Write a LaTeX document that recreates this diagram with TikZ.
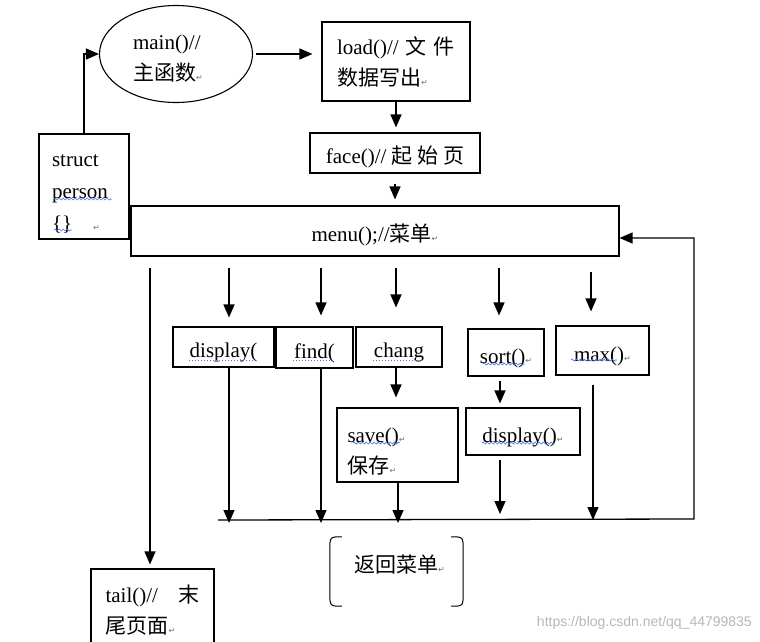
\documentclass[tikz,border=0pt]{standalone}
\usepackage{fontspec}
\setmainfont{Liberation Serif}
\newfontfamily\cjk{Noto Sans CJK SC}
\newfontfamily\dejavu{DejaVu Sans}
\newfontfamily\wmfont{Liberation Sans}
\usetikzlibrary{arrows.meta,shapes.geometric,calc,decorations.pathmorphing}
\newcommand\rt{{\dejavu\fontsize{8}{8}\selectfont\textcolor{black!55}{↵}}}
\definecolor{spell}{RGB}{70,120,220}
\begin{document}
\begin{tikzpicture}[x=1pt,y=-1pt,
  every node/.style={font=\fontsize{21}{31}\selectfont},
  box/.style={draw,line width=1.1pt,rectangle,inner sep=0pt},
  low/.style={text height=21pt,text depth=0pt},
  arr/.style={line width=1.3pt,-{Triangle[length=13pt,width=11pt]}},
  wavy/.style={spell,line width=0.7pt,decorate,decoration={snake,segment length=4pt,amplitude=1pt}},
  dots/.style={spell,line width=0.8pt,dash pattern=on 1pt off 2pt}]
\useasboundingbox[fill=white] (0,0) rectangle (760,642);

\node[draw,ellipse,line width=1.1pt,minimum width=153pt,minimum height=97pt,inner sep=0pt,align=left,text width=86pt] (main) at (176,54) {\rule{0pt}{23pt}main()//\\{\cjk 主函数}\rt};
\node[box,minimum width=148pt,minimum height=79pt,text width=118pt,align=left] (load) at (396,61.5) {load()// {\cjk 文\hfill 件}\\{\cjk 数据写出}\rt};
\node[box,low,minimum width=170pt,minimum height=40pt] (face) at (395,153) {face()// {\cjk 起 始 页}};
\node[box,minimum width=90pt,minimum height=105pt,text width=64pt,align=left,font=\fontsize{21}{32}\selectfont] (struct) at (84,186.5) {\rule{0pt}{26pt}struct\\person\\\{\}\quad\rt};
\node[box,low,minimum width=488pt,minimum height=50pt] (menu) at (375,231) {menu();//{\cjk 菜单}\rt};

\node[box,low,minimum width=101pt,minimum height=40pt] (disp) at (223.5,347) {display(};
\node[box,low,minimum width=77pt,minimum height=41pt] (find) at (314.5,347.5) {find(};
\node[box,low,minimum width=86pt,minimum height=40pt] (chang) at (399,347) {chang};
\node[box,low,minimum width=76pt,minimum height=47pt] (sort) at (506,352.5) {sort()\rt};
\node[box,low,minimum width=93pt,minimum height=49pt] (max) at (602.5,350.5) {max()\rt};
\node[box,minimum width=121pt,minimum height=74pt,text width=100pt,align=left] (save) at (397.5,445) {\rule{0pt}{27pt}save()\rt\\{\cjk 保存}\rt};
\node[box,low,minimum width=114pt,minimum height=47pt] (disp2) at (523,431.5) {display()\rt};
\node[box,minimum width=123pt,minimum height=82pt,text width=94pt,align=left] (tail) at (152.5,610) {tail()//\hfill{\cjk 末}\\{\cjk 尾页面}\rt};

% spelling underlines
\draw[wavy] (54,199) -- (112,199);
\draw[wavy] (54,230) -- (72,230);
\draw[dots] (189,360) -- (255,360);
\draw[dots] (293,360) -- (333,360);
\draw[dots] (373,360) -- (423,360);
\draw[wavy] (483,364) -- (525,364);
\draw[wavy] (571,360) -- (617,360);
\draw[wavy] (353,443) -- (400,443);
\draw[wavy] (482,443) -- (555,443);

\node[minimum width=133pt,minimum height=69pt,inner sep=0pt] (ret) at (396.5,571.5) {};
\node[anchor=west,inner sep=0pt] (rett) at (354,565) {{\cjk 返回菜单}\rt};
\draw[line width=1pt] ([xshift=12pt]ret.north west) .. controls (ret.north west) .. ([yshift=-14pt]ret.north west)
  -- ([yshift=14pt]ret.south west) .. controls (ret.south west) .. ([xshift=12pt]ret.south west);
\draw[line width=1pt] ([xshift=-12pt]ret.north east) .. controls (ret.north east) .. ([yshift=-14pt]ret.north east)
  -- ([yshift=14pt]ret.south east) .. controls (ret.south east) .. ([xshift=-12pt]ret.south east);

\node[anchor=east,inner sep=0pt,font=\wmfont\fontsize{14}{14}\selectfont,text=black!28] (wm) at (752,623) {https://blog.csdn.net/qq\_44799835};

% connectors
\draw[arr] (struct.north) |- (main.west);
\draw[arr,shorten <=3pt,shorten >=9pt] (main.east) -- (main.east -| load.west);
\draw[arr,shorten >=5pt] (load.south) -- (load.south |- face.north);
\draw[arr,shorten <=10pt,shorten >=6pt] (face.south) -- (face.south |- menu.north);

\coordinate (a1) at ([xshift=5.5pt]disp.north);
\coordinate (a2) at ([xshift=6.5pt]find.north);
\coordinate (a3) at ([xshift=-3pt]chang.north);
\coordinate (a4) at ([xshift=-7pt]sort.north);
\coordinate (a5) at ([xshift=-11.5pt]max.north);
\draw[arr,shorten <=11pt,shorten >=9pt] (menu.south -| a1) -- (a1);
\draw[arr,shorten <=11pt,shorten >=11pt] (menu.south -| a2) -- (a2);
\draw[arr,shorten <=11pt,shorten >=19pt] (menu.south -| a3) -- (a3);
\draw[arr,shorten <=11pt,shorten >=13pt] (menu.south -| a4) -- (a4);
\draw[arr,shorten <=15pt,shorten >=14pt] (menu.south -| a5) -- (a5);

\draw[arr,shorten >=10pt] ([xshift=-3pt]chang.south) -- ([xshift=-3pt]chang.south |- save.north);
\draw[arr,shorten <=4pt,shorten >=4pt] ([xshift=-6pt]sort.south) -- ([xshift=-6pt]sort.south |- disp2.north);

\coordinate (bl) at (218,520);
\coordinate (br) at (694,519);
\coordinate (b1) at ([xshift=5.5pt]disp.south);
\coordinate (b2) at ([xshift=6.5pt]find.south);
\coordinate (b3) at ([xshift=0.5pt]save.south);
\coordinate (b4) at ([xshift=-23pt]disp2.south);
\coordinate (b5) at ([xshift=-9.5pt]max.south);
\draw[arr,shorten >=-3pt] (b1) -- (b1 |- bl);
\draw[arr,shorten >=-3pt] (b2) -- (b2 |- bl);
\draw[arr,shorten >=-3pt] (b3) -- (b3 |- bl);
\draw[arr,shorten <=4pt,shorten >=6pt] (b4) -- (b4 |- bl);
\draw[arr,shorten <=9pt] (b5) -- (b5 |- bl);
\draw[arr] (bl) -- (br) |- ([yshift=-7pt]menu.east);

\coordinate (t1) at ([xshift=-2.5pt]tail.north);
\draw[arr,shorten <=11pt,shorten >=4pt] (menu.south -| t1) -- (t1);
\end{tikzpicture}
\end{document}
